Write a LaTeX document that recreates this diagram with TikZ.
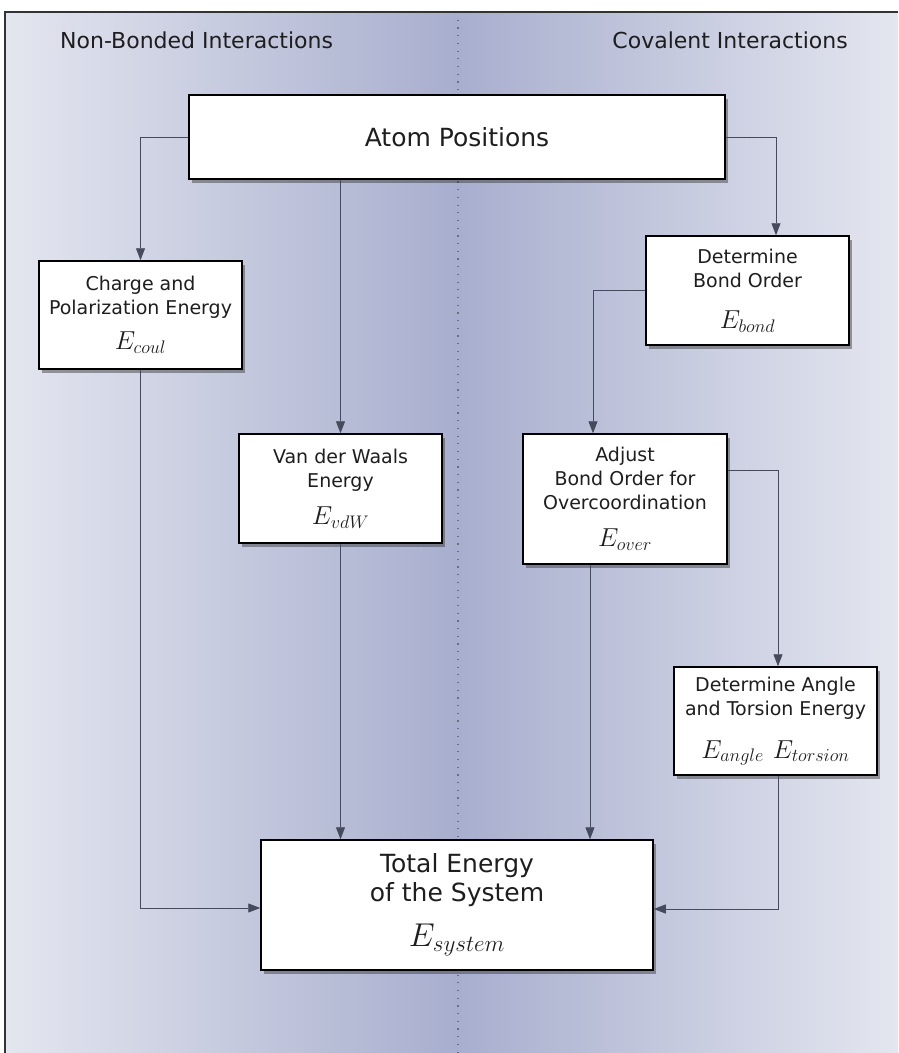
\RequirePackage{fix-cm}
\documentclass[tikz,border=0pt]{standalone}
\usepackage{fontspec}
\setmainfont{DejaVu Sans}
\usetikzlibrary{arrows.meta,shadows,calc}
\definecolor{bgL}{HTML}{E4E6EF}
\definecolor{bgD}{HTML}{A8AECE}
\definecolor{linecol}{HTML}{454A5C}
\definecolor{dotcol}{HTML}{6A6F85}
\definecolor{txt}{HTML}{1E1E1E}
\tikzset{
  box/.style={draw=black, line width=1.5pt, fill=white, align=center, inner sep=0pt,
    text=txt, font=\fontsize{19}{24}\selectfont,
    drop shadow={shadow xshift=3pt, shadow yshift=-4pt, opacity=0.45, fill=black!80}},
  hdr/.style={text=txt, font=\fontsize{22}{26}\selectfont, inner sep=0pt},
  conn/.style={draw=linecol, line width=0.9pt},
  arr/.style={conn, -{Triangle[length=12pt,width=9pt]}}
}
\newcommand{\mth}[1]{{\fontsize{26}{26}\selectfont$#1$}}
\begin{document}
\begin{tikzpicture}[x=1pt,y=-1pt]
\useasboundingbox (0,0) rectangle (898,1053);
\fill[white] (0,0) rectangle (898,1053);
\shade[left color=bgL, right color=bgD] (5,12) rectangle (458,1053);
\shade[left color=bgD, right color=bgL] (458,12) rectangle (898,1053);
\draw[dotcol, line width=1.2pt, dash pattern=on 1.2pt off 6.5pt] (458,12) -- (458,1053);
\draw[line width=1.3pt, draw=black!80] (5,1053) -- (5,12) -- (898,12);

\node[hdr, anchor=base west] (hl) at (60,48) {Non-Bonded Interactions};
\node[hdr, anchor=base east] (hr) at (848,48) {Covalent Interactions};

\node[box, minimum width=536pt, minimum height=84pt, font=\fontsize{25}{30}\selectfont] (atom) at (457,137) {Atom Positions};
\node[box, minimum width=203pt, minimum height=108pt] (charge) at (140.5,315)
  {Charge and\\Polarization Energy\\[11pt]\mth{E_{coul}}};
\node[box, minimum width=203pt, minimum height=109pt] (bond) at (747.5,290.5)
  {Determine\\Bond Order\\[17pt]\mth{E_{bond}}};
\node[box, minimum width=203pt, minimum height=109pt] (vdw) at (340.5,488.5)
  {Van der Waals\\Energy\\[13pt]\mth{E_{vdW}}};
\node[box, minimum width=204pt, minimum height=130pt] (adjust) at (625,499)
  {Adjust\\Bond Order for\\Overcoordination\\[13pt]\mth{E_{over}}};
\node[box, minimum width=203pt, minimum height=108pt] (angle) at (775.5,721)
  {Determine Angle\\and Torsion Energy\\[19pt]\mth{E_{angle}\hspace{9pt}E_{torsion}}};
\node[box, minimum width=392pt, minimum height=130pt, font=\fontsize{25}{29}\selectfont] (total) at (457,905)
  {Total Energy\\of the System\\[16pt]{\fontsize{33}{33}\selectfont$E_{system}$}};

\draw[arr] (atom.west) -| (charge.north);
\draw[arr] (atom.south -| vdw.north) -- (vdw.north);
\draw[arr] (atom.east) -| ([xshift=28.5pt]bond.north);
\draw[arr] (bond.west) -| ([xshift=-32pt]adjust.north);
\draw[arr] ([yshift=29pt]adjust.east) -| ([xshift=2.5pt]angle.north);
\draw[arr] (charge.south) |- ([yshift=-3pt]total.west);
\draw[arr] (vdw.south) -- (vdw.south |- total.north);
\draw[arr] ([xshift=-35pt]adjust.south) -- ([xshift=-35pt]adjust.south |- total.north);
\draw[arr] ([xshift=2.5pt]angle.south) |- ([yshift=-4pt]total.east);
\end{tikzpicture}
\end{document}
